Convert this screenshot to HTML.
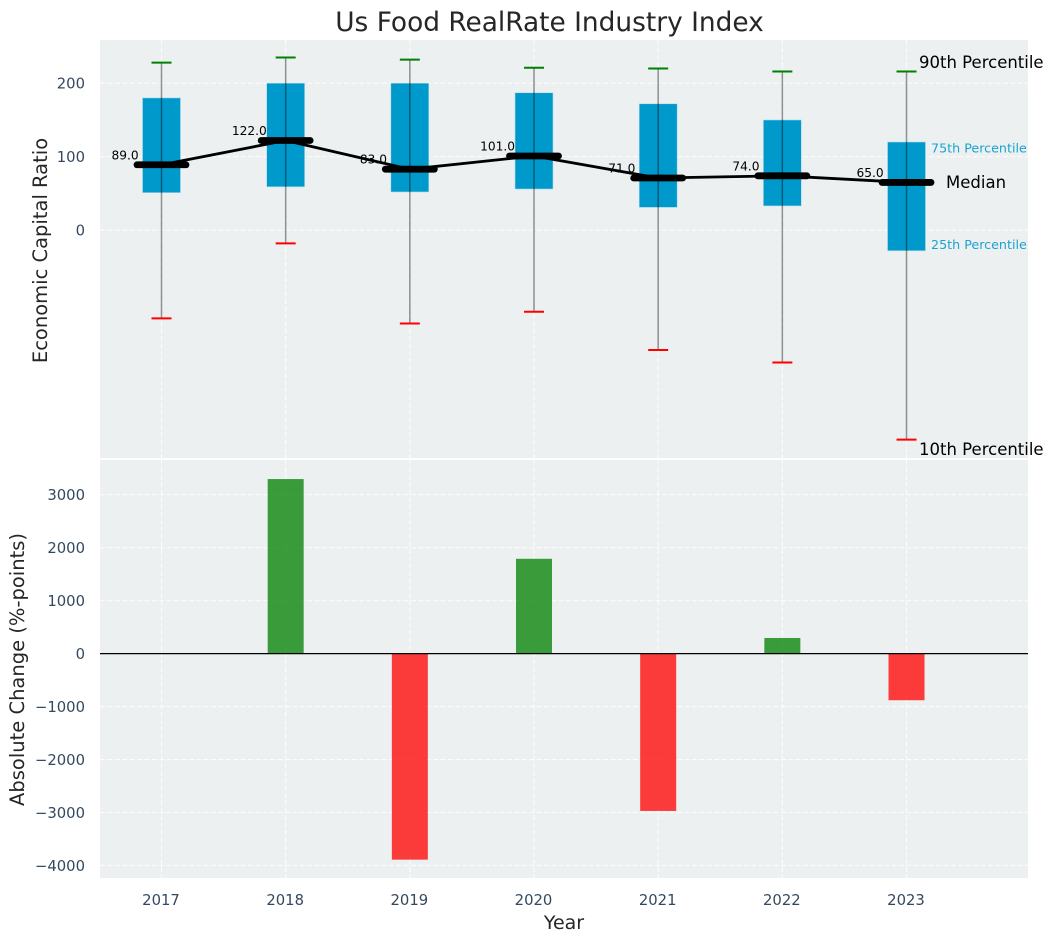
<!DOCTYPE html>
<html>
<head>
<meta charset="utf-8">
<title>Us Food RealRate Industry Index</title>
<style>
html,body{margin:0;padding:0;background:#fff;width:1054px;height:942px;overflow:hidden}
svg{display:block}
text{font-family:"DejaVu Sans","Liberation Sans",sans-serif}
</style>
</head>
<body>
<svg id="chart" xmlns="http://www.w3.org/2000/svg" width="1054" height="942" viewBox="0 0 1054 942">
<rect x="0" y="0" width="1054" height="942" fill="#fff"/>
<text x="549.5" y="31" font-size="26.4" fill="#262626" text-anchor="middle">Us Food RealRate Industry Index</text>
<rect x="100" y="40" width="928" height="418" fill="#ecf0f1"/>
<rect x="100" y="460" width="928" height="418" fill="#ecf0f1"/>
<g id="grid"></g>
<g id="upper"></g>
<g id="lower"></g>
<g id="labels"></g>
<text transform="translate(47,250.5) rotate(-90)" font-size="19.5" fill="#262626" text-anchor="middle">Economic Capital Ratio</text>
<text transform="translate(24,669.5) rotate(-90)" font-size="19.5" fill="#262626" text-anchor="middle">Absolute Change (%-points)</text>
<text x="564" y="929" font-size="19" fill="#262626" text-anchor="middle">Year</text>
</svg>
<script>
const years = [2017, 2018, 2019, 2020, 2021, 2022, 2023];
const p10 = [-120, -18, -127, -111, -163, -180, -285];
const p25 = [51, 59, 52, 56, 31, 33, -28];
const medians = [89, 122, 83, 101, 71, 74, 65];
const p75 = [180, 200, 200, 187, 172, 150, 120];
const p90 = [228, 235, 232, 221, 220, 216, 216];
const changes = [0, 3295, -3890, 1790, -2970, 295, -880];
const upperTicks = [0, 100, 200];
const lowerTicks = [-4000, -3000, -2000, -1000, 0, 1000, 2000, 3000];

const NS = 'http://www.w3.org/2000/svg';
const xScale = function (year) { return 161.5 + (year - 2017) * 124.17; };
const yUpper = function (v) { return 230.2 - v * 0.735; };
const yLower = function (v) { return 653.6 - v * 0.05297; };
const BOX_W = 38, BAR_W = 36, CAP_W = 20, MED_W = 49;

function make(parent, tag, attrs, text) {
  const el = document.createElementNS(NS, tag);
  for (const k in attrs) el.setAttribute(k, attrs[k]);
  if (text !== undefined) el.textContent = text;
  parent.appendChild(el);
  return el;
}
const grid = document.getElementById('grid');
const upper = document.getElementById('upper');
const lower = document.getElementById('lower');
const labels = document.getElementById('labels');
const gridStyle = { stroke: '#fff', 'stroke-width': 1.1, 'stroke-dasharray': '5 2.4', opacity: 0.85 };

years.forEach(function (yr) {
  const x = xScale(yr);
  const a = make(grid, 'line', Object.assign({ x1: x, x2: x, y1: 40, y2: 458 }, gridStyle));
  
  
  const b = make(grid, 'line', Object.assign({ x1: x, x2: x, y1: 460, y2: 878 }, gridStyle));
  
  
  const t = make(labels, 'text', { x: x - 0.5, y: 905, 'font-size': 14.8, fill: '#34495e', 'text-anchor': 'middle' }, String(yr));
  
  
});
upperTicks.forEach(function (v) {
  const y = yUpper(v);
  const g = make(grid, 'line', Object.assign({ x1: 100, x2: 1028, y1: y, y2: y }, gridStyle));
  
  
  const t = make(labels, 'text', { x: 85, y: y + 5.5, 'font-size': 14.8, fill: '#34495e', 'text-anchor': 'end' }, String(v));
  
  
});
lowerTicks.forEach(function (v) {
  const y = yLower(v);
  const g = make(grid, 'line', Object.assign({ x1: 100, x2: 1028, y1: y, y2: y }, gridStyle));
  
  
  const s = v < 0 ? '\u2212' + Math.abs(v) : String(v);
  const t = make(labels, 'text', { x: 85, y: y + 5.5, 'font-size': 14.8, fill: '#34495e', 'text-anchor': 'end' }, s);
  
  
});

/* boxes */
years.forEach(function (yr, i) {
  const x = xScale(yr);
  const top = yUpper(p75[i]), bot = yUpper(p25[i]);
  const box = make(upper, 'rect', { x: x - BOX_W / 2, y: top, width: BOX_W, height: bot - top, fill: '#0099cc', stroke: '#b5dcea', 'stroke-width': 0.6 });
  
  
  const wh = make(upper, 'line', { x1: x, x2: x, y1: yUpper(p90[i]), y2: yUpper(p10[i]), stroke: '#000', 'stroke-opacity': 0.42, 'stroke-width': 1.5 });
  
  
  const c1 = make(upper, 'line', { x1: x - CAP_W / 2, x2: x + CAP_W / 2, y1: yUpper(p90[i]), y2: yUpper(p90[i]), stroke: '#008000', 'stroke-width': 2 });
  
  
  const c2 = make(upper, 'line', { x1: x - CAP_W / 2, x2: x + CAP_W / 2, y1: yUpper(p10[i]), y2: yUpper(p10[i]), stroke: '#ff0000', 'stroke-width': 2 });
  
  
});

/* median line */
const pts = years.map(function (yr, i) { return xScale(yr) + ',' + yUpper(medians[i]); }).join(' ');
const medianLine = make(upper, 'polyline', { points: pts, fill: 'none', stroke: '#000', 'stroke-width': 2.8, 'stroke-linejoin': 'round' });


years.forEach(function (yr, i) {
  const x = xScale(yr), y = yUpper(medians[i]);
  const m = make(upper, 'line', { x1: x - MED_W / 2, x2: x + MED_W / 2, y1: y, y2: y, stroke: '#000', 'stroke-width': 6.8, 'stroke-linecap': 'round' });
  
  
  const t = make(upper, 'text', { x: x - 36.4, y: y - 5.5, 'font-size': 12.2, fill: '#000', 'text-anchor': 'middle' }, medians[i].toFixed(1));
  
  
});

/* percentile annotations on the last year */
const last = years.length - 1;
const lastX = xScale(years[last]);
const notes = [
  { text: 'Median', dx: 39.5, y: yUpper(medians[last]) + 5.4, size: 16.5, fill: '#000', name: 'median-annotation' },
  { text: '90th Percentile', dx: 12.5, y: yUpper(p90[last]) - 3.2, size: 16.5, fill: '#000', name: 'p90-annotation' },
  { text: '10th Percentile', dx: 12.5, y: yUpper(p10[last]) + 15.3, size: 16.5, fill: '#000', name: 'p10-annotation' },
  { text: '75th Percentile', dx: 24.5, y: yUpper(p75[last]) + 10.4, size: 12.7, fill: '#1aa3d1', name: 'p75-annotation' },
  { text: '25th Percentile', dx: 24.5, y: yUpper(p25[last]) - 1.7, size: 12.7, fill: '#1aa3d1', name: 'p25-annotation' }
];
notes.forEach(function (n) {
  const t = make(upper, 'text', { x: lastX + n.dx, y: n.y, 'font-size': n.size, fill: n.fill }, n.text);
  
  
});

/* change bars */
years.forEach(function (yr, i) {
  const v = changes[i];
  if (v === 0) return;
  const x = xScale(yr);
  const y0 = yLower(0), y1 = yLower(v);
  const r = make(lower, 'rect', { x: x - BAR_W / 2, y: Math.min(y0, y1), width: BAR_W, height: Math.abs(y1 - y0), fill: v > 0 ? '#008000' : '#ff0000', 'fill-opacity': 0.76 });
  
  
});
const zero = make(lower, 'line', { x1: 100, x2: 1028, y1: yLower(0), y2: yLower(0), stroke: '#000', 'stroke-width': 1.2 });


</script>
</body>
</html>
